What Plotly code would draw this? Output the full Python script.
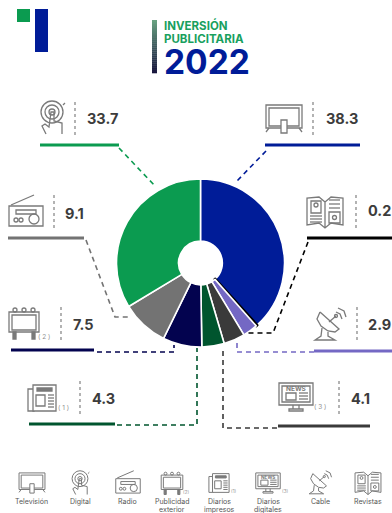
import plotly.graph_objects as go

# ---------- data ----------
categories = ["Televisión", "Revistas", "Cable", "Diarios digitales", "Diarios impresos",
              "Publicidad exterior", "Radio", "Digital"]
values = [38.3, 0.2, 2.9, 4.1, 4.3, 7.5, 9.1, 33.7]
slice_colors = ["#001C98", "#000000", "#7468C4", "#3A3A3A", "#00552E", "#03034F", "#737373", "#0B9B50"]
legend_order = ["Televisión", "Digital", "Radio", "Publicidad exterior", "Diarios impresos",
                "Diarios digitales", "Cable", "Revistas"]
legend_labels = ["Televisión", "Digital", "Radio", "Publicidad<br>exterior", "Diarios<br>impresos",
                 "Diarios<br>digitales", "Cable", "Revistas"]
title_lines = ["INVERSIÓN", "PUBLICITARIA"]
title_year = "2022"

W, H = 392, 513
GRAY = "#7A7A7A"
shapes, notes = [], []
X = lambda v: v / W
Y = lambda v: 1 - v / H


def line(pts, color, width=1.0, dash=None):
    d = "M " + " L ".join(f"{X(a):.5f},{Y(b):.5f}" for a, b in pts)
    shapes.append(dict(type="path", xref="paper", yref="paper", path=d,
                       line=dict(color=color, width=width, dash=dash)))


def rect(x0, y0, x1, y1, fill=None, color=None, width=1.0):
    shapes.append(dict(type="rect", xref="paper", yref="paper", x0=X(x0), x1=X(x1), y0=Y(y0), y1=Y(y1),
                       fillcolor=fill or "rgba(0,0,0,0)",
                       line=dict(color=color or "rgba(0,0,0,0)", width=width if color else 0)))


def circ(cx, cy, r, color=GRAY, width=1.0, fill=None):
    shapes.append(dict(type="circle", xref="paper", yref="paper", x0=X(cx - r), x1=X(cx + r),
                       y0=Y(cy - r), y1=Y(cy + r), fillcolor=fill or "rgba(0,0,0,0)",
                       line=dict(color=color, width=width)))


def text(x, y, s, size, color, anchor="left", bold=False, family="Inter"):
    if anchor == "left":
        x -= 2  # annotation padding
    notes.append(dict(xref="paper", yref="paper", x=X(x), y=Y(y), text=f"<b>{s}</b>" if bold else s,
                      showarrow=False, xanchor=anchor, yanchor="middle", align="center",
                      font=dict(size=size, color=color, family=family)))


# ---------- icons, drawn in a 36-unit box around (cx, cy) ----------
def icon(kind, cx, cy, k=1.0):
    P = lambda a, b: (cx + a * k, cy + b * k)
    w = 1.3 if k > .8 else 1.0
    def L(*pts): line([P(*p) for p in pts], GRAY, w)
    def R(a, b, c, d, **kw):
        p, q = P(a, b), P(c, d)
        rect(p[0], p[1], q[0], q[1], color=GRAY, width=w, **kw)
    def C(a, b, r):
        p = P(a, b)
        circ(p[0], p[1], r * k, width=w)
    if kind == "Televisión":
        R(-18, -14, 18, 9)
        R(-15, -11, 15, 7)
        R(-3, 1, 3, 14, fill="white")
        L((-15, 9), (-18, 13))
        L((15, 9), (18, 13))
    elif kind == "Digital":
        C(0, -6, 3)
        C(0, -6, 7)
        C(0, -6, 11)
        L((-6, 16), (-10, 8), (-7, 6), (-3, 9), (-1, -6), (2, -6), (2, 3), (10, 5), (10, 16))
        L((11, -13), (13, -15))
    elif kind == "Radio":
        R(-17, -6, 17, 14)
        L((-15, -7), (8, -17))
        R(-10, -2, 10, 2)
        C(-10, 8, 2)
        C(-5, 8, 2)
        C(8, 7, 5)
    elif kind == "Publicidad exterior":
        R(-15, -11, 15, 9)
        R(-12, -8, 12, 7)
        for a in (-9, 0, 9):
            C(a, -13, 2)
        R(-11, 9, -8, 16, fill=GRAY)
        R(8, 9, 11, 16, fill=GRAY)
    elif kind == "Diarios impresos":
        R(-14, -9, -8, 13)
        R(-9, -13, 14, 13, fill="white")
        R(-5, -10, 10, -7, fill=GRAY)
        R(-6, -3, 3, 8)
        for b in (-3, 0, 3, 6, 9):
            L((6, b), (12, b))
    elif kind == "Diarios digitales":
        R(-17, -14, 17, 8)
        R(-14, -11, 14, 5)
        text(cx, cy - 8.5 * k, "NEWS", 6.5 * k, GRAY, "center", True)
        R(-10, -4, 0, 3)
        for b in (-4, -1, 2):
            L((3, b), (12, b))
        L((-3, 8), (-3, 12))
        L((3, 8), (3, 12))
        R(-7, 12, 7, 14)
    elif kind == "Cable":
        L((-10, -13), (-13, -6), (-9, 1), (-2, 6), (5, 7), (9, 4), (-10, -13))
        L((-8, 3), (-9, 11), (-15, 15), (5, 15), (-2, 11), (-2, 7))
        L((-1, -3), (6, -9))
        C(6, -9, 1.5)
        L((6, -13), (10, -11), (12, -6))
        L((8, -17), (14, -14), (16, -8))
    elif kind == "Revistas":
        L((0, -10), (-6, -15), (-18, -14), (-18, 13), (-6, 11), (0, 16), (6, 11), (18, 13), (18, -14), (6, -15), (0, -10), (0, 16))
        R(-14, -11, -4, 1)
        C(-9, -7, 2)
        for b in (4, 7, 10):
            L((-15, b), (-3, b))
        R(4, 0, 15, 11)
        C(9.5, 5.5, 2)
        for b in (-12, -8, -4):
            L((4, b), (15, b))


# ---------- callout rule, separator, value ----------
value_of = dict(zip(categories, values))
color_of = dict(zip(categories, slice_colors))
callouts = {
    "Digital": dict(rule=(40, 119, 145), icon=(52, 118), sep=(75, 102, 135), num=(87, 118),
                    path=[(119, 148), (155, 186)]),
    "Televisión": dict(rule=(265, 360, 145), icon=(284, 119), sep=(313, 102, 135), num=(326, 118),
                       path=[(266, 151), (237, 181)]),
    "Radio": dict(rule=(8, 84, 238), icon=(26, 212), sep=(54, 195, 228), num=(65, 213),
                  path=[(86, 240), (115, 317), (130, 317)]),
    "Revistas": dict(rule=(307, 392, 238), icon=(325, 212), sep=(356, 195, 228), num=(368, 211),
                     path=[(308, 242), (273, 333), (248, 333)]),
    "Publicidad exterior": dict(rule=(11, 94, 350), icon=(24, 323), sep=(61, 307, 341), num=(73, 324),
                                path=[(97, 352), (174, 352), (174, 345)]),
    "Cable": dict(rule=(314, 392, 351), icon=(330, 325), sep=(357, 307, 343), num=(368, 324),
                  path=[(314, 352), (237, 352), (237, 342)]),
    "Diarios impresos": dict(rule=(29, 115, 424), icon=(42, 398), sep=(80, 381, 415), num=(92, 398),
                             path=[(117, 425), (197, 425), (197, 348)]),
    "Diarios digitales": dict(rule=(278, 370, 426), icon=(296, 397), sep=(339, 381, 415), num=(351, 398),
                              path=[(277, 428), (223, 428), (223, 350)]),
}
for name, c in callouts.items():
    col = color_of[name]
    a, b, y = c["rule"]
    line([(a, y), (b, y)], col, 3)
    line([(c["sep"][0], c["sep"][1]), (c["sep"][0], c["sep"][2])], "#8A8A8A", 1.3, "3px,3px")
    line(c["path"], col, 1.6, "5px,4px")
    icon(name, c["icon"][0], c["icon"][1], 1.0)
    text(c["num"][0], c["num"][1], f"{value_of[name]:.1f}", 14.5, "#3C3C3C", bold=True)

text(58, 408, "( 1 )", 6.5, "#909090")
text(38, 337, "( 2 )", 6.5, "#909090")
text(314, 407, "( 3 )", 6.5, "#909090")

# ---------- bottom legend ----------
legend_x = [32, 80, 128, 172, 219, 268, 320, 368]
for name, lab, x in zip(legend_order, legend_labels, legend_x):
    icon(name, x, 483, 0.72)
    for i, part in enumerate(lab.split("<br>")):
        text(x, 501.5 + i * 7.5, part, 7, "#555555", "center")
text(186, 492, "(2)", 4.5, "#909090", "center")
text(233, 491, "(1)", 4.5, "#909090", "center")
text(285, 491, "(3)", 4.5, "#909090", "center")

# ---------- header ----------
rect(17, 9, 30, 22, fill="#0B9B50")
rect(35, 9, 48, 52, fill="#001C98")
grad_top, grad_bot = (104, 160, 128), (22, 20, 60)
n = 27
for i in range(n):
    t = i / (n - 1)
    rgb = tuple(round(p + (q - p) * t) for p, q in zip(grad_top, grad_bot))
    rect(152, 20 + i * 53 / n, 157, 20 + (i + 1) * 53 / n + .3, fill=f"rgb{rgb}")
text(164, 25, title_lines[0], 11.5, "#19A05E", bold=True)
text(164, 39.5, title_lines[1], 11.5, "#19A05E", bold=True)
text(164, 62, title_year, 33.5, "#001C98", bold=True)

# ---------- pie ----------
cx, cy, r = 200.5, 263, 84
edge_colors = ["#000000" if c == "#000000" else "white" for c in slice_colors]
edge_widths = [3.0 if c == "#000000" else 1.6 for c in slice_colors]
fig = go.Figure(go.Pie(
    labels=categories, values=values, sort=False, direction="clockwise", rotation=0,
    hole=0.26, textinfo="none", showlegend=False,
    marker=dict(colors=slice_colors, line=dict(color=edge_colors, width=edge_widths)),
    domain=dict(x=[X(cx - r), X(cx + r)], y=[Y(cy + r), Y(cy - r)]),
))
fig.update_layout(width=W, height=H, margin=dict(l=0, r=0, t=0, b=0), paper_bgcolor="white",
                  shapes=shapes, annotations=notes, font=dict(family="Inter"))
fig.write_html("out.html", config=dict(displayModeBar=False),
               post_script="document.body.style.margin='0';document.documentElement.style.overflow='hidden';")
